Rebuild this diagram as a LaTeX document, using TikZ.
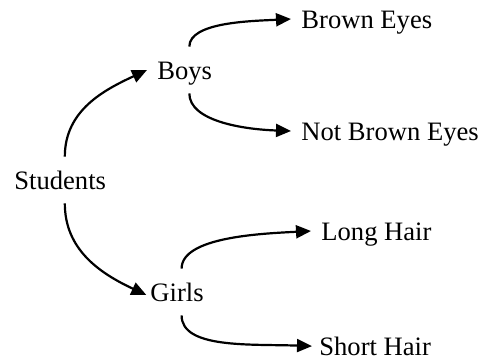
\documentclass[tikz,border=0pt]{standalone}
\usepackage{fontspec}
\setmainfont{Liberation Serif}
\usetikzlibrary{arrows.meta}
\tikzset{
  item/.style={inner xsep=5pt,inner ysep=7pt,text height=9pt,text depth=0pt,font=\fontsize{13.3}{15}\selectfont,anchor=base west},
  branch/.style={-{Triangle[length=7.5pt,width=6.5pt]},line width=1.1pt,draw=black}
}
\begin{document}
\begin{tikzpicture}[x=0.5pt,y=0.5pt]
  \useasboundingbox (0,0) rectangle (481,360);
  \node[item] (stud) at (4,171) {Students};
  \node[item] (boys) at (147,281) {Boys};
  \node[item] (girls) at (140,59) {Girls};
  \node[item] (brown) at (291,332) {Brown Eyes};
  \node[item] (notbrown) at (291,220) {Not Brown Eyes};
  \node[item] (long) at (311,120) {Long Hair};
  \node[item] (short) at (309,5) {Short Hair};
  \draw[branch] ([xshift=2.3pt]stud.north) to[out=90,in=205] (boys.west);
  \draw[branch,shorten >=-3.5pt] ([xshift=2.3pt]stud.south) to[out=-90,in=155] (girls.west);
  \draw[branch] ([xshift=2.3pt]boys.north) to[out=90,in=183,out looseness=0.6,in looseness=0.95] (brown.west);
  \draw[branch] ([xshift=2.3pt]boys.south) to[out=-90,in=178,out looseness=0.65,in looseness=1.15] (notbrown.west);
  \draw[branch] ([xshift=2.3pt]girls.north) to[out=90,in=183,out looseness=0.6,in looseness=0.95] (long.west);
  \draw[branch,shorten >=-1.5pt] ([xshift=2.3pt]girls.south) to[out=-90,in=178,out looseness=0.65,in looseness=1.15] (short.west);
\end{tikzpicture}
\end{document}
